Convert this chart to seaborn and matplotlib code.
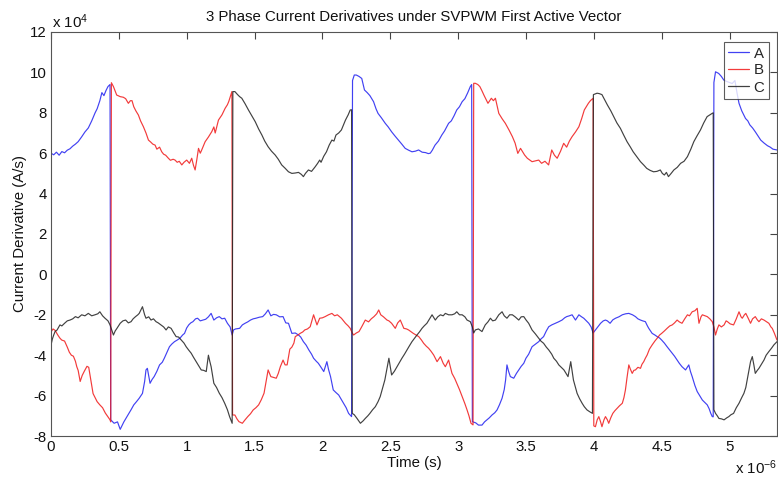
import numpy as np
import pandas as pd
import matplotlib
matplotlib.use("Agg")
import matplotlib.pyplot as plt
import seaborn as sns

# time in microseconds, values in 1e4 A/s
t_a = [0.0,0.02,0.04,0.06,0.08,0.1,0.12,0.14,0.16,0.18,0.2,0.225,0.25,0.275,0.3,0.325,0.34,0.36,0.375,0.39,0.405,0.42,0.435,
       0.44,0.465,0.49,0.51,0.537,0.555,0.574,0.59,0.61,0.63,0.65,0.674,0.69,0.7,0.71,0.73,0.745,0.76,0.78,0.8,0.82,0.835,0.855,0.873,0.89,0.91,0.93,0.95,0.97,0.984,1.0,1.015,1.03,1.046,1.065,1.08,1.1,1.12,1.14,1.16,1.18,1.2,1.22,1.24,1.26,1.28,1.3,1.32,1.335,
       1.345,1.36,1.39,1.41,1.43,1.45,1.47,1.49,1.51,1.535,1.56,1.58,1.6,1.62,1.64,1.66,1.685,1.71,1.73,1.75,1.775,1.8,1.824,1.84,1.86,1.88,1.9,1.92,1.935,1.955,1.97,1.99,2.01,2.033,2.045,2.06,2.08,2.1,2.12,2.14,2.156,2.175,2.193,2.215,
       2.222,2.235,2.25,2.27,2.29,2.31,2.33,2.35,2.377,2.395,2.41,2.435,2.463,2.485,2.51,2.535,2.56,2.585,2.61,2.635,2.66,2.685,2.709,2.735,2.76,2.78,2.795,2.81,2.83,2.855,2.88,2.9,2.93,2.95,2.97,2.99,3.01,3.03,3.05,3.07,3.09,3.1,
       3.105,3.13,3.15,3.176,3.195,3.213,3.23,3.25,3.27,3.287,3.305,3.324,3.34,3.35,3.36,3.372,3.385,3.41,3.43,3.447,3.465,3.484,3.5,3.52,3.545,3.57,3.594,3.61,3.63,3.65,3.668,3.69,3.717,3.74,3.766,3.785,3.8,3.82,3.84,3.865,3.89,3.91,3.926,3.945,3.963,3.98,3.995,
       4.012,4.03,4.05,4.07,4.086,4.1,4.12,4.14,4.16,4.185,4.21,4.235,4.258,4.285,4.307,4.325,4.344,4.36,4.38,4.395,4.405,4.43,4.45,4.467,4.485,4.5,4.52,4.54,4.56,4.578,4.595,4.614,4.63,4.65,4.676,4.7,4.712,4.725,4.745,4.762,4.78,4.8,4.82,4.836,4.85,4.862,4.873,4.88,
       4.885,4.897,4.92,4.94,4.958,4.98,5.0,5.02,5.04,5.055,5.07,5.09,5.118,5.135,5.15,5.17,5.19,5.21,5.23,5.255,5.28,5.3,5.32,5.35]
a_vals = [6.0,5.92,6.05,5.9,6.08,6.02,6.15,6.22,6.35,6.45,6.57,6.8,7.05,7.25,7.6,8.0,8.2,8.6,9.0,8.85,9.1,9.3,9.4,
          -7.2,-7.37,-7.3,-7.67,-7.3,-7.1,-6.88,-6.7,-6.46,-6.3,-6.13,-5.89,-5.3,-4.73,-4.65,-5.39,-5.2,-5.06,-4.8,-4.48,-4.35,-4.15,-3.85,-3.58,-3.45,-3.33,-3.25,-3.16,-3.0,-2.92,-2.65,-2.5,-2.4,-2.34,-2.2,-2.17,-2.3,-2.26,-2.22,-2.1,-1.93,-2.26,-2.15,-2.09,-2.2,-2.17,-2.42,-2.6,-3.0,
          -2.75,-2.7,-2.67,-2.5,-2.42,-2.35,-2.26,-2.2,-2.17,-2.12,-2.09,-1.95,-1.76,-2.05,-1.98,-2.0,-2.1,-2.09,-2.4,-2.42,-2.92,-2.9,-3.0,-3.1,-3.33,-3.5,-3.74,-3.95,-4.15,-4.3,-4.4,-4.6,-4.81,-4.32,-4.7,-5.06,-5.72,-5.85,-5.97,-6.2,-6.38,-6.6,-6.88,-7.04,
          9.6,9.87,9.87,9.8,9.7,9.13,9.0,8.85,8.55,8.2,7.97,7.75,7.48,7.3,7.06,6.85,6.65,6.45,6.24,6.15,6.07,6.1,6.16,6.05,6.03,5.98,6.0,6.15,6.4,6.6,6.9,7.1,7.48,7.6,7.85,8.14,8.3,8.55,8.7,8.98,9.3,9.4,
          -7.29,-7.35,-7.46,-7.46,-7.3,-7.2,-7.1,-6.96,-6.85,-6.71,-6.45,-6.13,-5.7,-5.23,-4.48,-4.8,-5.06,-5.14,-4.9,-4.73,-4.55,-4.4,-4.15,-3.95,-3.58,-3.45,-3.33,-3.2,-3.08,-2.8,-2.59,-2.5,-2.42,-2.35,-2.26,-2.15,-2.09,-2.05,-2.0,-2.26,-2.0,-2.1,-2.17,-2.3,-2.42,-2.6,-2.9,
          -2.75,-2.6,-2.42,-2.3,-2.26,-2.3,-2.42,-2.25,-2.17,-2.1,-2.0,-1.95,-1.93,-2.0,-2.09,-2.2,-2.26,-2.3,-2.34,-2.55,-2.67,-2.92,-3.0,-3.08,-3.15,-3.25,-3.4,-3.58,-3.75,-3.9,-4.05,-4.24,-4.4,-4.57,-4.73,-4.48,-4.8,-5.06,-5.5,-5.8,-6.0,-6.22,-6.35,-6.46,-6.65,-6.88,-7.04,-7.05,
          9.5,10.03,9.95,9.8,9.62,9.55,9.5,9.45,9.6,9.0,8.47,8.1,7.72,7.6,7.4,7.25,7.06,6.85,6.65,6.5,6.37,6.3,6.2,6.16]

t_b = [0.0,0.015,0.03,0.05,0.065,0.079,0.1,0.12,0.135,0.15,0.165,0.18,0.19,0.2,0.215,0.23,0.245,0.265,0.278,0.29,0.3,0.31,0.325,0.34,0.36,0.38,0.4,0.42,0.435,0.44,
       0.445,0.46,0.484,0.51,0.533,0.55,0.57,0.585,0.597,0.61,0.625,0.644,0.66,0.681,0.7,0.718,0.735,0.75,0.767,0.78,0.8,0.816,0.83,0.845,0.865,0.88,0.9,0.914,0.93,0.945,0.964,0.98,1.0,1.02,1.037,1.05,1.062,1.075,1.087,1.1,1.11,1.136,1.16,1.185,1.2,1.21,1.234,1.26,1.283,1.3,1.31,1.333,
       1.338,1.355,1.37,1.385,1.41,1.43,1.45,1.47,1.49,1.51,1.53,1.55,1.57,1.585,1.6,1.62,1.64,1.66,1.675,1.69,1.71,1.725,1.74,1.76,1.775,1.79,1.8,1.82,1.836,1.855,1.87,1.89,1.91,1.935,1.96,1.98,2.0,2.02,2.045,2.07,2.09,2.11,2.14,2.17,2.19,2.205,2.22,
       2.23,2.25,2.27,2.29,2.316,2.34,2.36,2.38,2.4,2.415,2.43,2.45,2.476,2.49,2.51,2.537,2.555,2.574,2.6,2.62,2.635,2.67,2.69,2.71,2.73,2.746,2.765,2.783,2.8,2.82,2.845,2.87,2.89,2.906,2.93,2.955,2.975,2.99,3.01,3.03,3.05,3.066,3.08,3.095,3.11,
       3.115,3.127,3.145,3.16,3.175,3.19,3.21,3.22,3.245,3.26,3.275,3.3,3.325,3.348,3.375,3.4,3.42,3.44,3.46,3.49,3.51,3.53,3.545,3.57,3.594,3.615,3.64,3.667,3.69,3.71,3.73,3.755,3.778,3.8,3.82,3.84,3.865,3.89,3.91,3.93,3.945,3.96,3.975,3.995,
       4.0,4.012,4.025,4.037,4.05,4.06,4.075,4.086,4.1,4.11,4.125,4.14,4.155,4.172,4.19,4.21,4.222,4.233,4.245,4.258,4.27,4.283,4.295,4.307,4.325,4.344,4.355,4.368,4.38,4.393,4.41,4.43,4.45,4.467,4.485,4.5,4.52,4.54,4.56,4.578,4.595,4.614,4.63,4.65,4.67,4.69,4.705,4.725,4.745,4.762,4.775,4.79,4.8,4.82,4.836,4.855,4.873,4.885,
       4.897,4.91,4.922,4.94,4.96,4.975,4.985,5.005,5.03,5.05,5.07,5.085,5.094,5.11,5.12,5.14,5.155,5.17,5.19,5.205,5.217,5.235,5.254,5.275,5.29,5.305,5.315,5.33,5.35]
b_vals = [-2.85,-2.7,-2.77,-3.0,-3.15,-3.25,-3.3,-3.6,-3.85,-4.0,-4.05,-4.3,-4.57,-4.75,-5.3,-5.0,-4.8,-4.55,-4.6,-5.1,-5.5,-5.9,-6.1,-6.3,-6.46,-6.6,-6.86,-7.05,-7.2,-7.3,
          9.49,9.3,8.88,8.8,8.77,8.7,8.47,8.6,8.6,8.3,8.1,7.89,7.6,7.31,7.0,6.65,6.55,6.45,6.4,6.2,6.3,6.07,5.95,5.9,5.75,5.65,5.7,5.66,5.55,5.6,5.42,5.55,5.66,5.5,5.75,5.4,5.17,5.7,6.24,6.0,6.15,6.57,6.8,7.07,7.3,7.0,7.64,7.9,8.22,8.4,8.56,9.05,
          -6.96,-6.96,-7.15,-7.29,-7.37,-7.2,-7.04,-6.9,-6.71,-6.6,-6.46,-6.2,-5.88,-5.3,-4.73,-5.06,-5.1,-5.14,-4.9,-4.57,-4.24,-4.48,-4.48,-3.7,-3.6,-3.4,-3.08,-3.0,-2.92,-2.85,-2.75,-2.7,-2.59,-2.0,-2.5,-2.17,-2.15,-2.09,-2.0,-1.93,-2.05,-2.0,-2.17,-2.42,-2.55,-2.67,-2.9,
          -3.0,-2.9,-2.83,-2.59,-2.26,-2.35,-2.2,-2.09,-1.95,-1.76,-2.0,-2.1,-2.26,-2.3,-2.42,-2.67,-2.4,-2.26,-2.67,-2.7,-2.75,-2.92,-3.0,-3.08,-3.25,-3.41,-3.55,-3.66,-3.8,-3.99,-4.32,-4.07,-4.4,-4.57,-4.24,-4.9,-5.15,-5.39,-5.7,-6.05,-6.4,-6.71,-7.0,-7.37,-7.45,
          9.46,9.46,9.4,9.3,9.1,8.88,8.6,8.47,8.72,8.6,8.72,7.97,7.7,7.48,7.15,6.82,6.5,5.99,6.24,5.91,5.75,5.65,5.58,5.62,5.66,5.5,5.6,5.42,6.16,5.9,5.75,6.1,6.49,6.3,6.6,6.82,7.05,7.31,7.7,8.14,8.3,8.47,8.6,8.72,
          -7.5,-7.54,-7.2,-7.04,-7.3,-7.54,-7.2,-7.04,-7.2,-7.37,-7.1,-6.88,-6.75,-6.63,-6.5,-6.38,-6.1,-5.72,-5.1,-4.48,-4.7,-4.9,-4.75,-4.73,-4.6,-4.65,-4.45,-4.32,-4.15,-3.99,-3.7,-3.49,-3.3,-3.16,-3.0,-2.92,-2.8,-2.67,-2.55,-2.5,-2.4,-2.26,-2.35,-2.42,-2.2,-2.0,-2.05,-1.85,-1.8,-1.68,-2.42,-2.1,-2.0,-2.05,-2.09,-2.2,-2.34,-2.6,
          -3.0,-2.7,-2.5,-2.6,-2.5,-2.3,-2.34,-2.45,-2.5,-2.2,-1.85,-2.1,-2.17,-2.0,-1.93,-2.2,-2.42,-2.2,-2.09,-2.25,-2.34,-2.2,-2.26,-2.35,-2.42,-2.6,-2.67,-2.9,-3.25]

t_c = [0.0,0.01,0.02,0.03,0.045,0.066,0.08,0.1,0.12,0.14,0.16,0.18,0.2,0.226,0.25,0.275,0.3,0.324,0.345,0.36,0.38,0.398,0.42,0.435,0.45,0.46,
       0.473,0.486,0.51,0.53,0.55,0.57,0.59,0.605,0.623,0.64,0.65,0.674,0.69,0.7,0.72,0.737,0.755,0.774,0.79,0.81,0.83,0.848,0.865,0.885,0.905,0.922,0.94,0.96,0.98,0.996,1.015,1.033,1.05,1.07,1.09,1.107,1.125,1.144,1.16,1.17,1.18,1.2,1.22,1.24,1.26,1.28,1.3,1.316,1.335,
       1.34,1.355,1.375,1.39,1.406,1.43,1.455,1.48,1.505,1.53,1.554,1.575,1.6,1.625,1.652,1.675,1.7,1.726,1.75,1.775,1.8,1.824,1.845,1.86,1.875,1.897,1.92,1.947,1.965,1.98,1.99,2.01,2.03,2.05,2.07,2.085,2.1,2.12,2.14,2.155,2.17,2.19,2.205,2.215,
       2.22,2.235,2.255,2.28,2.3,2.316,2.335,2.35,2.37,2.39,2.41,2.426,2.445,2.46,2.475,2.49,2.51,2.53,2.55,2.57,2.586,2.605,2.623,2.64,2.66,2.68,2.697,2.715,2.734,2.75,2.77,2.79,2.808,2.832,2.85,2.87,2.89,2.906,2.93,2.955,2.975,2.99,3.01,3.03,3.05,3.066,3.09,3.105,3.115,
       3.127,3.15,3.176,3.2,3.22,3.238,3.255,3.275,3.3,3.324,3.34,3.36,3.38,3.4,3.42,3.447,3.465,3.484,3.5,3.52,3.545,3.57,3.594,3.61,3.63,3.65,3.668,3.69,3.705,3.725,3.742,3.76,3.78,3.795,3.81,3.83,3.85,3.865,3.877,3.895,3.914,3.93,3.95,3.97,3.99,
       3.997,4.024,4.04,4.06,4.08,4.1,4.125,4.147,4.17,4.196,4.22,4.245,4.27,4.29,4.32,4.344,4.37,4.39,4.415,4.44,4.465,4.49,4.505,4.52,4.535,4.55,4.57,4.59,4.615,4.64,4.665,4.69,4.715,4.737,4.76,4.786,4.81,4.835,4.855,4.872,4.88,
       4.885,4.897,4.91,4.922,4.94,4.96,4.98,4.995,5.01,5.03,5.05,5.07,5.09,5.106,5.12,5.13,5.145,5.155,5.168,5.18,5.19,5.205,5.217,5.235,5.254,5.27,5.29,5.31,5.327,5.35]
c_vals = [-3.5,-3.2,-3.0,-2.83,-2.75,-2.5,-2.55,-2.42,-2.3,-2.26,-2.2,-2.09,-2.15,-2.0,-2.05,-1.93,-2.05,-2.0,-1.95,-1.85,-2.05,-2.17,-2.3,-2.5,-2.8,-3.0,
          -2.8,-2.67,-2.42,-2.3,-2.26,-2.4,-2.34,-2.2,-2.09,-2.0,-1.93,-1.6,-2.0,-2.17,-2.1,-2.26,-2.2,-2.34,-2.4,-2.5,-2.6,-2.75,-2.6,-2.67,-2.9,-3.08,-3.1,-3.25,-3.4,-3.58,-3.75,-3.9,-4.1,-4.32,-4.55,-4.73,-4.75,-4.81,-4.0,-4.3,-4.57,-5.39,-5.6,-5.88,-6.1,-6.38,-6.7,-7.04,-7.37,
          9.05,9.05,8.9,8.8,8.72,8.45,8.14,7.85,7.56,7.2,6.9,6.6,6.32,6.1,5.91,5.7,5.42,5.25,5.08,5.0,5.02,5.05,4.95,4.84,5.0,5.17,5.1,5.33,5.5,5.66,5.55,5.85,6.07,6.4,6.65,6.6,6.9,7.0,7.15,7.4,7.64,7.9,8.14,8.15,
          -6.88,-6.95,-7.13,-7.37,-7.25,-7.13,-7.0,-6.88,-6.7,-6.55,-6.3,-6.05,-5.6,-5.23,-4.7,-4.15,-4.98,-4.8,-4.57,-4.35,-4.15,-3.95,-3.74,-3.55,-3.33,-3.15,-3.0,-2.85,-2.67,-2.55,-2.42,-2.2,-2.0,-2.26,-2.1,-2.0,-2.05,-1.93,-2.0,-2.0,-1.95,-1.85,-2.0,-2.0,-2.1,-2.26,-2.34,-2.6,-2.9,
          -2.75,-2.7,-2.83,-2.5,-2.35,-2.17,-2.3,-2.26,-2.0,-1.85,-2.05,-2.17,-2.0,-2.0,-2.1,-2.26,-2.1,-2.09,-2.25,-2.42,-2.75,-2.95,-3.16,-3.3,-3.41,-3.6,-3.74,-3.95,-4.15,-4.3,-4.48,-4.6,-4.73,-4.9,-5.06,-4.32,-5.23,-5.6,-5.89,-6.15,-6.38,-6.55,-6.71,-6.8,-6.88,
          8.9,8.97,8.95,8.9,8.65,8.39,8.1,7.81,7.5,7.23,6.9,6.57,6.3,6.07,5.8,5.58,5.4,5.25,5.15,5.08,5.1,5.17,5.0,4.92,5.05,4.84,5.0,5.17,5.3,5.5,5.6,5.83,6.2,6.57,6.85,7.15,7.5,7.81,7.9,7.97,8.0,
          -6.7,-6.88,-7.0,-7.13,-7.15,-7.2,-7.1,-7.04,-6.95,-6.88,-6.6,-6.38,-6.1,-5.89,-5.6,-5.23,-4.7,-4.32,-4.07,-4.5,-4.9,-4.75,-4.65,-4.45,-4.24,-4.0,-3.82,-3.65,-3.49,-3.33]

phases = ["A", "B", "C"]
colors = ["#2020f0", "#f01818", "#202020"]
x_ticks = [0, 0.5, 1, 1.5, 2, 2.5, 3, 3.5, 4, 4.5, 5]
x_tick_labels = ["0", "0.5", "1", "1.5", "2", "2.5", "3", "3.5", "4", "4.5", "5"]
y_ticks = [-8, -6, -4, -2, 0, 2, 4, 6, 8, 10, 12]
y_tick_labels = ["-8", "-6", "-4", "-2", "0", "2", "4", "6", "8", "10", "12"]

frames = []
for name, tt, vv in zip(phases, [t_a, t_b, t_c], [a_vals, b_vals, c_vals]):
    frames.append(pd.DataFrame({"t": tt, "v": vv, "phase": name}))
df = pd.concat(frames, ignore_index=True)

sns.set_style("white")
plt.rcParams["font.family"] = ["Liberation Sans", "DejaVu Sans"]
plt.rcParams["mathtext.fontset"] = "custom"
plt.rcParams["mathtext.rm"] = "Liberation Sans"
plt.rcParams["mathtext.it"] = "Liberation Sans"
plt.rcParams["axes.unicode_minus"] = False

fig = plt.figure(figsize=(7.78, 4.80), dpi=100)
ax = fig.add_axes([51/778, 1-436/480, 726/778, 404/480])

sns.lineplot(data=df, x="t", y="v", hue="phase", palette=dict(zip(phases, colors)),
             estimator=None, sort=False, units="phase", linewidth=0.85, alpha=0.85, ax=ax)

ax.set_xlim(0, 5.35)
ax.set_ylim(-8, 12)
ax.set_xticks(x_ticks)
ax.set_xticklabels(x_tick_labels)
ax.set_yticks(y_ticks)
ax.set_yticklabels(y_tick_labels)
fs = 10.8
ax.tick_params(direction="in", length=5, width=0.8, top=True, right=True, colors="#444444",
               labelcolor="#111111", labelsize=fs, pad=3)
for s in ax.spines.values():
    s.set_color("#555555")
    s.set_linewidth(0.8)

ax.set_title("3 Phase Current Derivatives under SVPWM First Active Vector", fontsize=fs, color="#111111", pad=8)
ax.set_xlabel("Time (s)", fontsize=fs, color="#111111", labelpad=1)
ax.set_ylabel("Current Derivative (A/s)", fontsize=fs, color="#111111", labelpad=2)

fig.text(52/778, 1-28/480, r"x 10$^{4}$", fontsize=fs, color="#111111", ha="left", va="baseline")
fig.text(777/778, 1-474/480, r"x 10$^{-6}$", fontsize=fs, color="#111111", ha="right", va="baseline")

handles, labels = ax.get_legend_handles_labels()
leg = ax.legend(handles, labels, loc="upper right", bbox_to_anchor=((769-51)/726, (436-42)/404),
                borderaxespad=0, frameon=True, fancybox=False, shadow=False, fontsize=fs,
                handlelength=1.4, handletextpad=0.3, labelspacing=0.2, borderpad=0.3)
leg.get_frame().set_edgecolor("#333333")
leg.get_frame().set_linewidth(0.8)
for line in leg.get_lines():
    line.set_linewidth(0.9)

fig.savefig("out.png", dpi=100)
